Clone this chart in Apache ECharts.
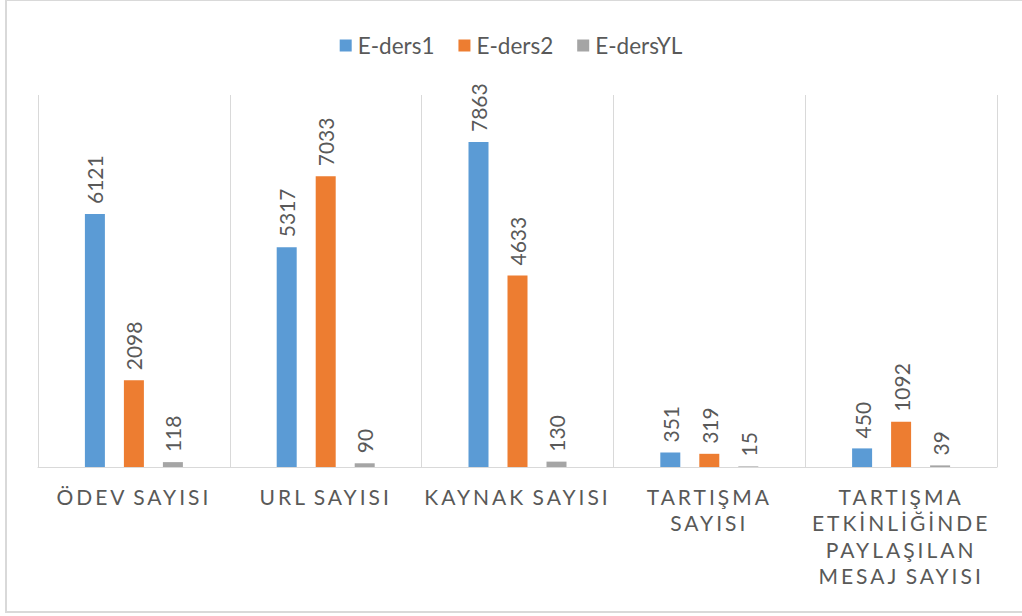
<!DOCTYPE html>
<html>
<head>
<meta charset="utf-8">
<script src="https://cdn.jsdelivr.net/npm/echarts@6/dist/echarts.min.js"></script>
<style>
  html, body { margin: 0; padding: 0; background: #ffffff; }
  #chart { width: 1022px; height: 616px; }
  /* spaced-out capitals for the category names */
  #chart text[fill="rgb(89,89,88)"], #chart text[fill="#595958"] { letter-spacing: 3px; word-spacing: -2px; }
</style>
</head>
<body>
<div id="chart"></div>
<script>
// Category names (line breaks as printed under the axis)
const categories = [
  'ÖDEV SAYISI',
  'URL SAYISI',
  'KAYNAK SAYISI',
  'TARTIŞMA\nSAYISI',
  'TARTIŞMA\nETKİNLİĞİNDE\nPAYLAŞILAN\nMESAJ SAYISI'
];

// Series values
const seriesNames = ['E-ders1', 'E-ders2', 'E-dersYL'];
const eders1 = [6121, 5317, 7863, 351, 450];
const eders2 = [2098, 7033, 4633, 319, 1092];
const edersYL = [118, 90, 130, 15, 39];

const colors = ['#5B9BD5', '#ED7D31', '#A5A5A5'];
const FONT = 'Lato, "Open Sans", sans-serif';
const TEXT = '#595959';

function barSeries(name, data, color) {
  return {
    name: name,
    type: 'bar',
    data: data,
    barWidth: 20,
    barGap: '95%',
    itemStyle: { color: color },
    label: {
      show: true,
      position: 'top',
      rotate: 90,
      align: 'left',
      verticalAlign: 'middle',
      distance: 10,
      color: TEXT,
      fontSize: 21,
      fontFamily: FONT
    },
    emphasis: { disabled: true }
  };
}

const chart = echarts.init(document.getElementById('chart'), null, { renderer: 'svg' });

chart.setOption({
  animation: false,
  backgroundColor: '#ffffff',
  color: colors,
  graphic: [{
    type: 'rect',
    z: -10,
    shape: { x: 6, y: 0, width: 1100, height: 612 },
    style: { fill: 'none', stroke: '#d9d9d9', lineWidth: 2 }
  }],
  legend: {
    top: 29,
    left: 'center',
    itemWidth: 12,
    itemHeight: 12,
    itemGap: 24,
    icon: 'rect',
    textStyle: { color: TEXT, fontSize: 22.5, fontFamily: FONT, padding: [0, 0, 0, 1] },
    data: seriesNames
  },
  grid: { left: 38, right: 25, top: 95, bottom: 149, containLabel: false },
  xAxis: {
    type: 'category',
    data: categories,
    boundaryGap: true,
    axisLine: { show: true, lineStyle: { color: '#d9d9d9', width: 1 } },
    axisTick: { show: false },
    splitLine: { show: true, lineStyle: { color: '#d9d9d9', width: 1 } },
    axisLabel: {
      interval: 0,
      margin: 16,
      color: '#595958',
      fontSize: 21,
      lineHeight: 26.5,
      fontFamily: FONT,
      align: 'center'
    }
  },
  yAxis: {
    type: 'value',
    min: 0,
    max: 9000,
    show: false,
    splitLine: { show: false }
  },
  series: [
    barSeries(seriesNames[0], eders1, colors[0]),
    barSeries(seriesNames[1], eders2, colors[1]),
    barSeries(seriesNames[2], edersYL, colors[2])
  ]
});
</script>
</body>
</html>
